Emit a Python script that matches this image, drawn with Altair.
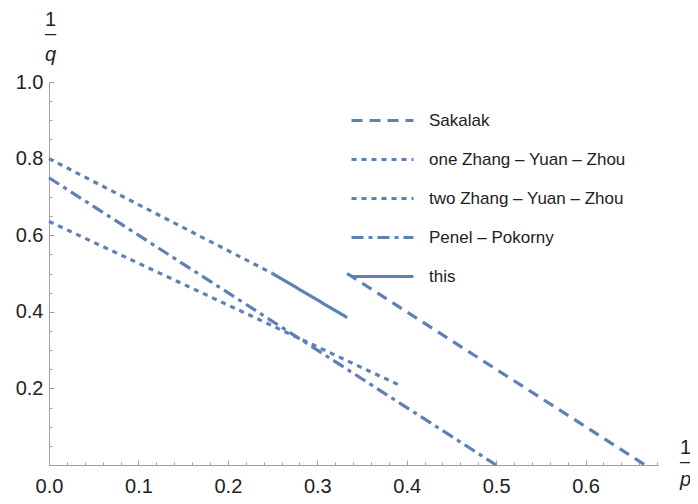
import altair as alt
import pandas as pd

# ---- data ----
series = ["Sakalak", "one Zhang – Yuan – Zhou", "two Zhang – Yuan – Zhou",
          "Penel – Pokorny", "this"]
x_start = [1 / 3, 0.0, 0.0, 0.0, 0.25]
y_start = [0.5, 0.8, 0.636, 0.75, 0.5]
x_end = [2 / 3, 0.25, 0.395, 0.5, 1 / 3]
y_end = [0.0, 0.5, 0.205, 0.0, 0.385]
dashes = [[11, 7], [5, 5], [5, 5], [12, 5, 4, 5], [1, 0]]

x_labels = [0.0, 0.1, 0.2, 0.3, 0.4, 0.5, 0.6]
y_labels = [0.2, 0.4, 0.6, 0.8, 1.0]
x_ticks = [round(i * 0.02, 2) for i in range(35)]
y_ticks = [round(i * 0.05, 2) for i in range(21)]

rows = []
for s, xa, ya, xb, yb in zip(series, x_start, y_start, x_end, y_end):
    rows.append({"series": s, "pt": 0, "x": xa, "y": ya})
    rows.append({"series": s, "pt": 1, "x": xb, "y": yb})
df = pd.DataFrame(rows)

FONT = "Liberation Sans"
AX = "#a0a0a0"
TXT = "#222222"
BLUE = "#5E81B5"
W, H = 609, 383

xscale = alt.Scale(domain=[0, 0.681], nice=False, zero=False)
yscale = alt.Scale(domain=[0, 1.0], nice=False, zero=False)

lines = alt.Chart(df).mark_line(color=BLUE, strokeWidth=3.2, strokeCap="butt").encode(
    x=alt.X("x:Q", scale=xscale, axis=alt.Axis(
        orient="bottom", values=x_labels, format=".1f", ticks=False, grid=False,
        domainColor=AX, domainWidth=1, labelFont=FONT, labelFontSize=20,
        labelColor=TXT, labelPadding=11, labelFlush=False, labelOverlap=False,
        title=["1", "–"], titleFont=FONT, titleFontSize=20, titleFontWeight="normal",
        titleColor=TXT, titleAngle=0, titleX=636, titleY=-12, titleAlign="center",
        titleBaseline="alphabetic", titleLineHeight=14.5)),
    y=alt.Y("y:Q", scale=yscale, axis=alt.Axis(
        orient="left", values=y_labels, format=".1f", ticks=False, grid=False,
        domainColor=AX, domainWidth=1, labelFont=FONT, labelFontSize=20,
        labelColor=TXT, labelPadding=6, labelFlush=False, labelOverlap=False,
        title=["1", "–"], titleFont=FONT, titleFontSize=20, titleFontWeight="normal",
        titleColor=TXT, titleAngle=0, titleX=1, titleY=-57, titleAlign="center",
        titleBaseline="alphabetic", titleLineHeight=14.5)),
    strokeDash=alt.StrokeDash("series:N", scale=alt.Scale(domain=series, range=dashes),
                              legend=alt.Legend(
                                  title=None, orient="none", legendX=324, legendY=29,
                                  direction="vertical", symbolType="M-4,0H4",
                                  symbolSize=240, symbolStrokeWidth=3.2,
                                  symbolStrokeColor=BLUE, symbolFillColor=BLUE,
                                  labelFont=FONT, labelFontSize=17, labelColor=TXT,
                                  labelOffset=37, labelLimit=400, rowPadding=21,
                                  padding=0)),
    detail="series:N",
    order="pt:Q",
)

ticks = alt.Chart(df).mark_line(opacity=0).encode(
    x=alt.X("x:Q", scale=xscale, axis=alt.Axis(
        orient="top", offset=-H, values=x_ticks, labels=False, domain=False, grid=False,
        ticks=True, tickColor=AX, tickWidth=1,
        tickSize={"condition": {"test": "abs(datum.value*10 - round(datum.value*10)) < 0.001",
                                "value": 5}, "value": 3},
        title="p", titleFont=FONT, titleFontSize=20, titleFontStyle="italic",
        titleFontWeight="normal", titleColor=TXT, titleAngle=0, titleX=636, titleY=20,
        titleAlign="center", titleBaseline="alphabetic")),
    y=alt.Y("y:Q", scale=yscale, axis=alt.Axis(
        orient="right", offset=-W, values=y_ticks, labels=False, domain=False, grid=False,
        ticks=True, tickColor=AX, tickWidth=1,
        tickSize={"condition": {"test": "abs(datum.value*5 - round(datum.value*5)) < 0.001",
                                "value": 5}, "value": 3},
        title="q", titleFont=FONT, titleFontSize=20, titleFontStyle="italic",
        titleFontWeight="normal", titleColor=TXT, titleAngle=0, titleX=1, titleY=-21.5,
        titleAlign="center", titleBaseline="alphabetic")),
    detail="series:N",
)

chart = alt.layer(lines, ticks).resolve_axis(x="independent", y="independent").properties(
    width=W, height=H,
    autosize=alt.AutoSizeParams(type="none"),
    padding={"left": 41, "top": 74, "right": 32, "bottom": 31},
).configure_view(stroke=None)

chart.save("out.html", embed_options={"renderer": "svg", "actions": False})
